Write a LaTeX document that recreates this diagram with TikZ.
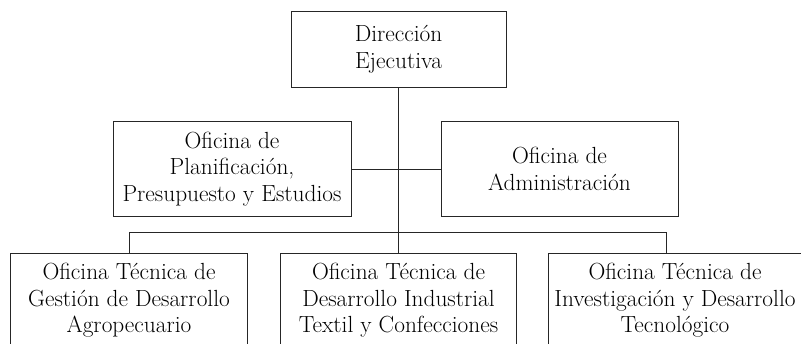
\documentclass[tikz,border=0pt]{standalone}
\usepackage{fontspec}
\usepackage{tikz}
\tikzset{
box/.style={shape=rectangle, draw=black!85, line width=0.7pt, text=black, align=center, inner sep=0pt, font=\fontsize{16.6}{18.9}\selectfont},
link/.style={draw=black!85, line width=0.7pt}}

\begin{document}
\begin{tikzpicture}

                \useasboundingbox (0,0) rectangle (20.025,8.6);
                \clip (0,0) rectangle (20.025,8.6);

                \node[box, minimum width=5.375cm, minimum height=1.9cm] (D) at (9.9625,7.375) {Dirección\\Ejecutiva};
                \node[box, minimum width=5.95cm, minimum height=2.375cm] (M1) at (5.8,4.375) {Oficina de\\Planificación,\\Presupuesto y Estudios};
                \node[box, minimum width=5.925cm, minimum height=2.375cm] (M2) at (13.9875,4.375) {Oficina de\\Administración};
                \node[box, minimum width=5.915cm, minimum height=2.375cm] (B1) at (3.225,1.0875) {Oficina Técnica de\\Gestión de Desarrollo\\Agropecuario};
                \node[box, minimum width=5.885cm, minimum height=2.375cm] (B2) at (9.9625,1.0875) {Oficina Técnica de\\Desarrollo Industrial\\Textil y Confecciones};
                \node[box, minimum width=6.35cm, minimum height=2.375cm] (B3) at (16.875,1.0875) {Oficina Técnica de\\Investigación y Desarrollo\\Tecnológico};
                \coordinate (R) at (16.65,2.8);

                \draw[link] (D) -- (B2);
                \draw[link] (M1) -- (M2);
                \draw[link] (B1) |- (R) -- (R |- B3.north);

            \end{tikzpicture}
\end{document}
